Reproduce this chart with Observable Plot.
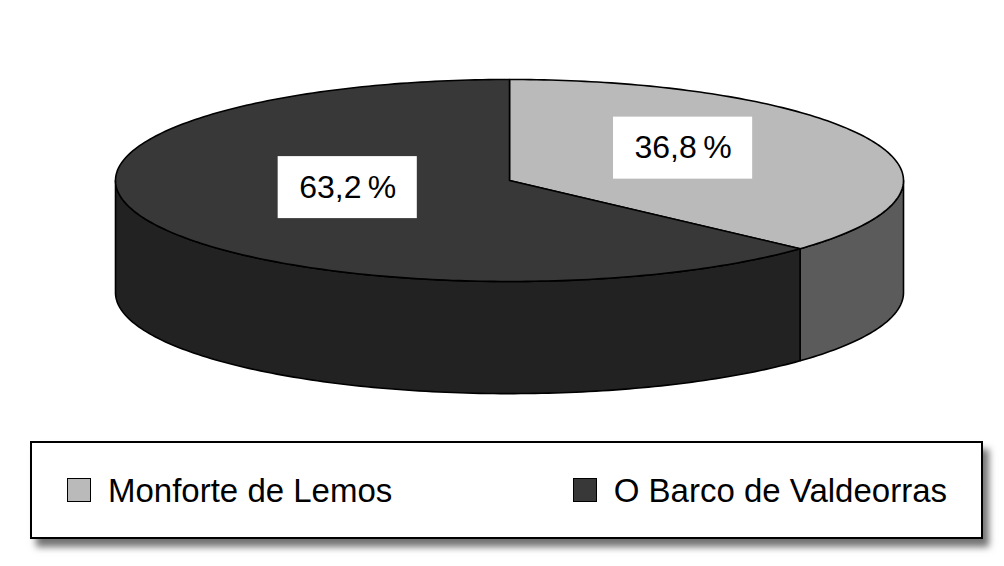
<!DOCTYPE html>
<html>
<head>
<meta charset="utf-8">
<script src="https://cdn.jsdelivr.net/npm/d3@7"></script>
<script src="https://cdn.jsdelivr.net/npm/@observablehq/plot@0.6"></script>
<style>
  html, body { margin: 0; padding: 0; background: #fff; }
  body { width: 1004px; height: 566px; position: relative; overflow: hidden;
         font-family: "Liberation Sans", Arial, Helvetica, sans-serif; }
  #chart svg { display: block; }
  .legend {
    position: absolute; left: 30px; top: 441px; width: 953px; height: 98px;
    box-sizing: border-box;
    border: 2px solid #000; background: #fff;
    box-shadow: 6px 8px 7px rgba(0,0,0,0.55);
    display: flex; align-items: center; justify-content: space-between;
    padding: 0 34px 0 35px;
  }
  .legend .item { display: flex; align-items: center; font-size: 33px; color: #000;
                  line-height: 1; white-space: nowrap; }
  .legend .sw { width: 22px; height: 22px; border: 1.5px solid #000; margin-right: 17px; }
</style>
</head>
<body>
<div id="chart"></div>
<div class="legend" id="legend"></div>
<script>
// Share of the total by municipality
const categories = ["Monforte de Lemos", "O Barco de Valdeorras"];
const shares = [36.8, 63.2];
const topColors = ["#bababa", "#383838"];
const sideColors = ["#5b5b5b", "#222222"];

const FONT = "'Liberation Sans', Arial, Helvetica, sans-serif";
const LABEL_SIZE = 32;

// Pie geometry in unit space: the top face is a unit circle, squashed into an ellipse by the y scale
const depth = 1.11;
const total = d3.sum(shares);
const TAU = Math.PI * 2;
const pt = (a, dy = 0) => ({x: Math.sin(a), y: -Math.cos(a) + dy});

function arc(a0, a1, dy = 0) {
  const n = Math.max(2, Math.ceil((a1 - a0) / (Math.PI / 180)));
  return d3.range(n + 1).map(i => pt(a0 + (a1 - a0) * i / n, dy));
}

let start = 0;
const slices = categories.map((name, i) => {
  const a0 = start, a1 = start + shares[i] / total * TAU;
  start = a1;
  return {name, value: shares[i], a0, a1, top: topColors[i], side: sideColors[i]};
});

// Top faces: wedge from the centre
const topPts = slices.flatMap(s => {
  const ring = [{x: 0, y: 0}, ...arc(s.a0, s.a1), {x: 0, y: 0}];
  return ring.map(p => ({...p, id: s.name, fill: s.top}));
});

// Visible outer wall: the front half, angles PI/2 .. 3PI/2
const sidePts = slices.flatMap(s => {
  const b0 = Math.max(s.a0, Math.PI / 2), b1 = Math.min(s.a1, Math.PI * 1.5);
  if (b1 <= b0) return [];
  const upper = arc(b0, b1), lower = arc(b0, b1, depth).reverse();
  const ring = [...upper, ...lower, upper[0]];
  return ring.map(p => ({...p, id: s.name, fill: s.side}));
});

// Value labels, placed along each slice's mid angle
const fmt = v => v.toFixed(1).replace(".", ",") + "\u2009%";
const labels = slices.map(s => {
  const m = (s.a0 + s.a1) / 2;
  return {x: 0.465 * Math.sin(m) + 0.015, y: -0.485 * Math.cos(m) - 0.125, text: fmt(s.value)};
});

// Text width, for sizing the white box behind each label
const ctx = document.createElement("canvas").getContext("2d");
ctx.font = `${LABEL_SIZE}px ${FONT}`;
const textWidth = s => ctx.measureText(s).width;

// Render function drawing a white box centred on each label
function labelBoxes(index, scales) {
  const g = document.createElementNS("http://www.w3.org/2000/svg", "g");
  for (const d of labels) {
    const cx = scales.x(d.x), cy = scales.y(d.y);
    const w = textWidth(d.text) + 42, h = 62;
    const r = document.createElementNS("http://www.w3.org/2000/svg", "rect");
    r.setAttribute("x", cx - w / 2);
    r.setAttribute("y", cy - h / 2);
    r.setAttribute("width", w);
    r.setAttribute("height", h);
    r.setAttribute("fill", "#fff");
    g.appendChild(r);
  }
  return g;
}

const lineOpts = {x: "x", y: "y", z: "id", fill: "fill", stroke: "#000",
                  strokeWidth: 1.6, strokeLinejoin: "round", curve: "linear"};

const plot = Plot.plot({
  width: 1004,
  height: 430,
  margin: 0,
  x: {domain: [-1, 1], range: [115, 903], axis: null},
  y: {domain: [-1, 1], range: [79, 281], axis: null},
  color: {type: "identity"},
  style: {fontFamily: FONT, background: "#fff"},
  marks: [
    Plot.line(sidePts, lineOpts),
    Plot.line(topPts, lineOpts),
    labelBoxes,
    Plot.text(labels, {x: "x", y: "y", text: "text", fontSize: LABEL_SIZE, fill: "#000"})
  ]
});
document.getElementById("chart").appendChild(plot);

// Legend
const legend = document.getElementById("legend");
categories.forEach((c, i) => {
  const item = document.createElement("div");
  item.className = "item";
  item.innerHTML = `<span class="sw" style="background:${topColors[i]}"></span><span>${c}</span>`;
  legend.appendChild(item);
});
</script>
</body>
</html>
